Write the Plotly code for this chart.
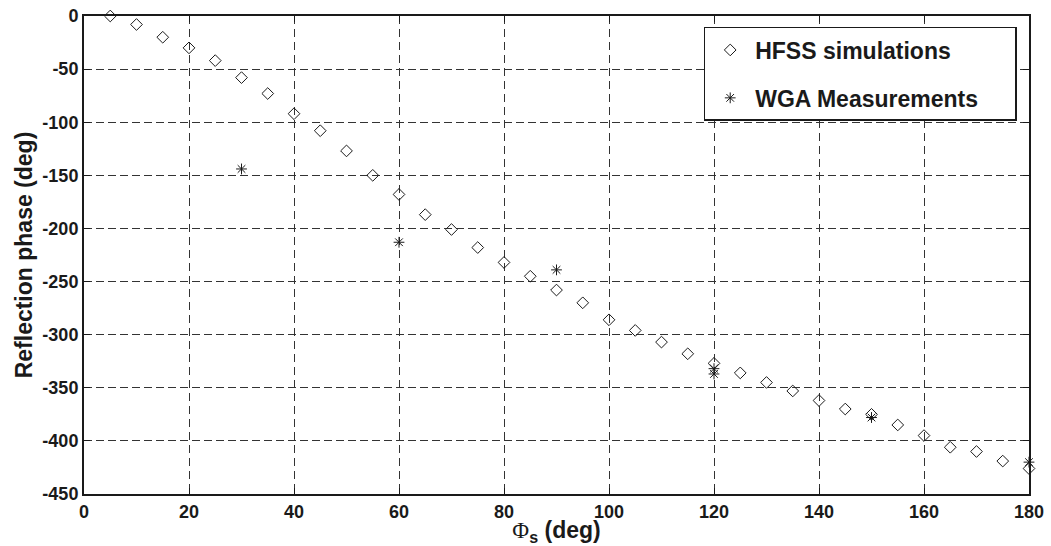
import plotly.graph_objects as go

# HFSS simulation data
phi_sim = [5, 10, 15, 20, 25, 30, 35, 40, 45, 50, 55, 60, 65, 70, 75, 80, 85, 90,
           95, 100, 105, 110, 115, 120, 125, 130, 135, 140, 145, 150, 155, 160,
           165, 170, 175, 180]
phase_sim = [0, -8, -20, -30, -42, -58, -73, -92, -108, -127, -150, -168, -187,
             -201, -218, -232, -245, -258, -270, -286, -296, -307, -318, -327,
             -336, -345, -353, -362, -370, -375, -385, -395, -406, -410, -419, -426]

# WGA measurements
phi_meas = [30, 60, 90, 120, 120, 150, 180]
phase_meas = [-144, -213, -239, -332, -337, -378, -420]

x_ticks = [0, 20, 40, 60, 80, 100, 120, 140, 160, 180]
y_ticks = [0, -50, -100, -150, -200, -250, -300, -350, -400, -450]

FONT = "Liberation Sans, Arial, Helvetica, sans-serif"
INK = "#1a1a1a"
PAD = "\u00a0" * 5

fig = go.Figure()
fig.add_trace(go.Scatter(
    x=phi_sim, y=phase_sim, mode="markers", name="HFSS simulations" + PAD,
    legendgroup="a", cliponaxis=False,
    marker=dict(symbol="diamond-open", size=9, color=INK, line=dict(width=1, color=INK)),
))
fig.add_trace(go.Scatter(
    x=phi_meas, y=phase_meas, mode="markers", name="WGA Measurements" + PAD,
    legendgroup="b", cliponaxis=False,
    marker=dict(symbol="asterisk-open", size=9, color=INK, line=dict(width=1, color=INK)),
))

fig.update_layout(
    width=1051, height=546,
    margin=dict(l=84, r=22, t=16, b=52),
    paper_bgcolor="white", plot_bgcolor="white",
    font=dict(family=FONT, color=INK, size=18, weight="bold"),
    showlegend=True,
    legend=dict(
        x=0.987, y=0.977, xanchor="right", yanchor="top",
        bgcolor="white", bordercolor=INK, borderwidth=1.5,
        font=dict(family=FONT, size=23, color=INK, weight="bold"),
        tracegroupgap=15, itemwidth=40,
    ),
    xaxis=dict(
        range=[0, 180], tickvals=x_ticks, ticktext=[str(v) for v in x_ticks],
        showline=True, linecolor=INK, linewidth=2, mirror="ticks",
        ticks="inside", ticklen=6, tickcolor=INK, tickwidth=1,
        showgrid=True, gridcolor="#333333", gridwidth=1, griddash="8px,5px",
        zeroline=False, automargin=False, ticklabeloverflow="allow",
        tickfont=dict(family=FONT, size=18, color=INK, weight="bold"),
        title=dict(text="<span style='font-family:Liberation Serif;font-weight:normal'>Φ</span><sub>s</sub> (deg)",
                   standoff=8,
                   font=dict(family=FONT, size=23, color=INK, weight="bold")),
    ),
    yaxis=dict(
        range=[-450, 0], tickvals=y_ticks, ticktext=[str(v) for v in y_ticks],
        showline=True, linecolor=INK, linewidth=2, mirror="ticks",
        ticks="inside", ticklen=6, tickcolor=INK, tickwidth=1,
        showgrid=True, gridcolor="#333333", gridwidth=1, griddash="8px,4px",
        zeroline=False, automargin=False, ticklabeloverflow="allow",
        tickfont=dict(family=FONT, size=18, color=INK, weight="bold"),
        title=dict(text="Reflection phase (deg)", standoff=3,
                   font=dict(family=FONT, size=23, color=INK, weight="bold")),
    ),
)

# remove the default 8px page margin so the figure fills the window exactly
fig.write_html("out.html", config={"displayModeBar": False},
               post_script="document.body.style.margin='0';")
